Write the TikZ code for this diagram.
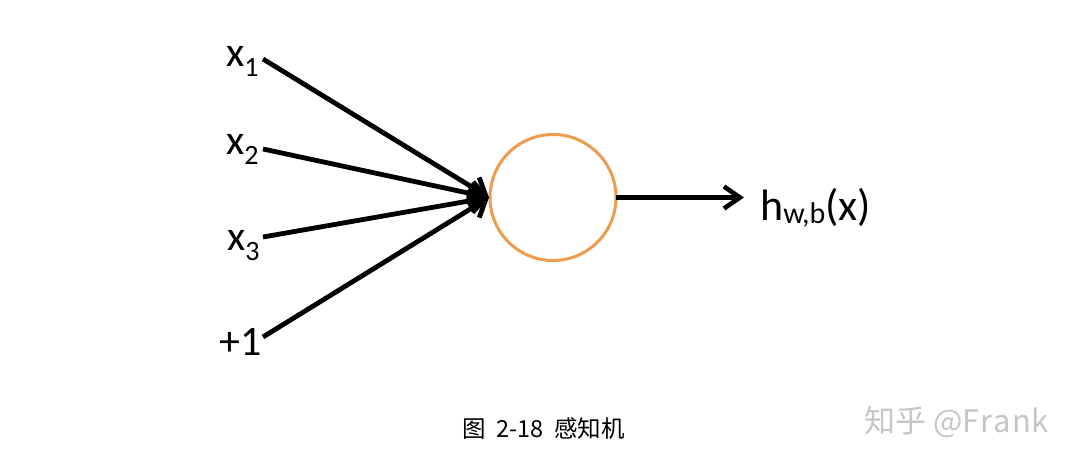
\documentclass[tikz,border=0pt]{standalone}
\usepackage{fontspec}
\setmainfont{Carlito}
\newfontfamily\cjk{Noto Sans CJK SC}
\usetikzlibrary{arrows.meta}
\definecolor{neuron}{RGB}{237,155,78}
\definecolor{wm}{RGB}{198,198,198}
\newcommand\mysub[1]{\raisebox{-10pt}{\fontsize{28}{28}\selectfont #1}}
\newcommand\hsub[1]{\raisebox{-3pt}{\fontsize{30}{30}\selectfont #1}}
\begin{document}
\begin{tikzpicture}[x=1pt,y=-1pt,
  lbl/.style={anchor=base west, inner sep=0pt, font=\fontsize{42}{42}\selectfont},
  inarrow/.style={line width=4.8pt, -{Straight Barb[length=15pt,width=24pt,line width=4.8pt]}},
  outarrow/.style={line width=4.4pt, -{Straight Barb[length=16pt,width=22pt,line width=4.6pt]}},
  neuronnode/.style={circle, draw=neuron, line width=3pt, minimum size=126pt, inner sep=0pt, outer sep=0pt}
]
\fill[white] (0,0) rectangle (1080,466);
\useasboundingbox (0,0) rectangle (1080,466);

\node[lbl] (x1) at (226,66) {x\mysub{1}};
\node[lbl] (x2) at (226,154) {x\mysub{2}};
\node[lbl] (x3) at (227,250) {x\mysub{3}};
\node[lbl] (b)  at (219,355) {+1};

\coordinate (s1) at (263,59);
\coordinate (s2) at (263,149);
\coordinate (s3) at (263,237);
\coordinate (s4) at (263,337);

\node[neuronnode] (n) at (553,197.5) {};

\foreach \s in {s1,s2,s3,s4}
  \draw[inarrow] (\s) -- ([xshift=-1pt]n.west);

\coordinate (o) at (744,197.5);
\draw[outarrow] (n.east) -- (o);

\node[anchor=base west, inner sep=0pt, font=\fontsize{44}{44}\selectfont] (h) at (760,220) {h\hsub{w,b}(x)};

\node[anchor=base west, inner sep=0pt, font=\cjk\fontsize{23.5}{23.5}\selectfont] (cap) at (462,437) {图\ \ 2-18\ \ 感知机};

\node[anchor=base west, inner sep=0pt, text=wm, font=\cjk\fontsize{31}{31}\selectfont] (wmk) at (864,432) {知乎\ @F\kern1pt r\kern1pt a\kern1pt n\kern1pt k};
\end{tikzpicture}
\end{document}
